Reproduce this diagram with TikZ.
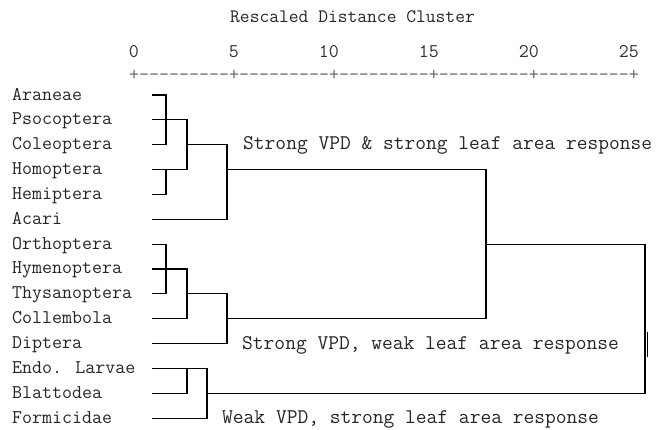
\documentclass[tikz,border=0pt]{standalone}
\usetikzlibrary{calc}

\begin{document}
\begin{tikzpicture}[x=1pt,y=-1pt,
     taxon/.style={anchor=base west,inner sep=0pt,text=black!85,
       font=\ttfamily\fontsize{19.4}{22}\selectfont},
     group/.style={anchor=base west,inner sep=0pt,text=black!85,
       font=\ttfamily\fontsize{20.9}{24}\selectfont},
     tick/.style={anchor=base east,inner sep=0pt,text=black!80,
       font=\ttfamily\fontsize{19.4}{22}\selectfont},
     link/.style={line width=1.1pt}
   ]
   \path[use as bounding box] (0,0) rectangle (656,429);
   % Scale.
   \node[taxon,font=\ttfamily\fontsize{19}{22}\selectfont] (title) at (230,22)
     {Rescaled Distance Cluster};
   \foreach \v [count=\k from 0] in {0,5,10,15,20,25}
     \node[tick] (n\v) at (139+\k*100,57) {\v};
   \node[taxon,text=black!60] (axis) at (129,80)
     {+---------+---------+---------+---------+---------+};
   % Taxa.
   \foreach \name [count=\i, evaluate=\i as \y using 95+(\i-1)*24.85] in
     {Araneae,Psocoptera,Coleoptera,Homoptera,Hemiptera,Acari,Orthoptera,
      Hymenoptera,Thysanoptera,Collembola,Diptera,Endo. Larvae,Blattodea,Formicidae}
   {
     \node[taxon] (t\i) at (12,\y+5) {\name};
     \coordinate (r\i) at (152,\y);
   }
   % Tree.
   \draw[link] (r1) -- ++(14,0) |- (r3);
   \draw[link] (r5) -- ++(14,0) |- (r4);
   \draw[link] (r2) -- ++(35,0) |- (r4);
   \draw[link] (r6) -- ++(75,0) |- ($(r3)+(35,0)$);
   \draw[link] ($(r4)+(75,0)$) -- ++(259,0) |- ($(r10)+(75,0)$);
   \draw[link] (r7) -- ++(14,0) |- (r9);
   \draw[link] (r8) -- ++(35,0) |- (r10);
   \draw[link] (r11) -- ++(75,0) |- ($(r9)+(35,0)$);
   \draw[link] (r13) -- ++(35,0) |- (r12);
   \draw[link] (r12) -- ++(55,0) |- (r14);
   \draw[link] ($(r7)+(334,0)$) -- ++(159,0) |- ($(r13)+(55,0)$);
   \draw[line width=0.8pt] ($(r7)+(495.5,88)$) -- ++(0,25);
   % Groups.
   \node[group] (g1) at (243,149) {Strong VPD \& strong leaf area response};
   \node[group] (g2) at (242,349) {Strong VPD, weak leaf area response};
   \node[group] (g3) at (222,423) {Weak VPD, strong leaf area response};
\end{tikzpicture}
\end{document}
